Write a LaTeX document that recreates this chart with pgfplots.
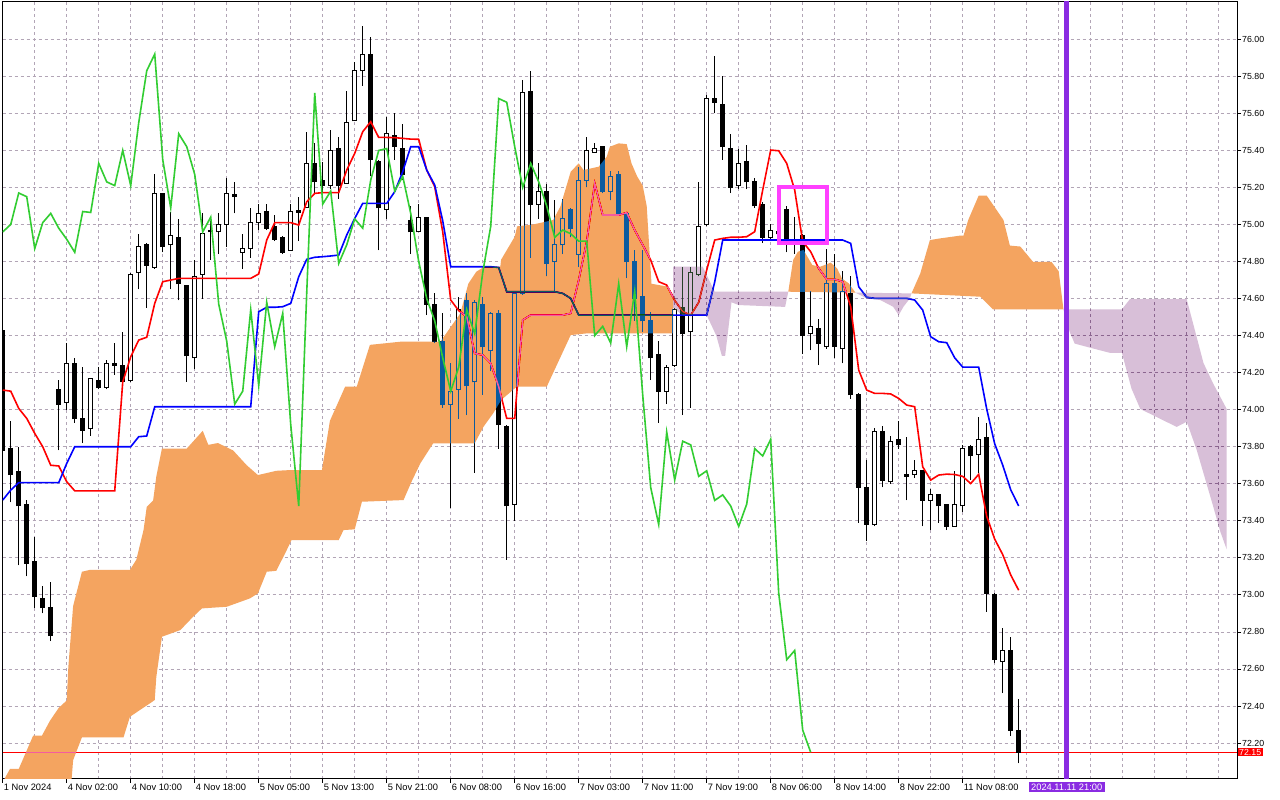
\documentclass[border=0pt]{standalone}
\usepackage{fontspec}
\setmainfont{Liberation Sans}
\usepackage{pgfplots}
\usepackage{pgfplotstable}
\pgfplotsset{compat=1.18}
\definecolor{gridc}{RGB}{178,165,182}
\definecolor{cloudO}{RGB}{11,91,159}
\definecolor{cloudT}{RGB}{39,64,39}
\definecolor{tenkan}{RGB}{255,0,0}
\definecolor{kijun}{RGB}{0,0,255}
\definecolor{chikou}{RGB}{50,205,50}
\definecolor{vline}{RGB}{138,43,226}
\definecolor{boxc}{RGB}{255,64,255}

\pgfplotstableread{
i o h l c
0 74.43 74.45 73.75 73.78
1 73.79 73.94 73.50 73.65
2 73.665 73.80 73.16 73.48
3 73.49 73.51 73.10 73.17
4 73.18 73.31 72.93 72.99
5 72.98 73.05 72.90 72.93
6 72.93 73.07 72.75 72.78
7 74.11 74.16 73.78 74.03
8 74.04 74.36 74.00 74.25
9 74.25 74.28 73.93 73.95
10 73.95 74.23 73.82 73.89
11 73.90 74.17 73.86 74.17
12 74.16 74.23 74.11 74.12
13 74.12 74.27 74.11 74.25
14 74.25 74.36 74.19 74.24
15 74.24 74.42 74.13 74.15
16 74.16 74.74 74.15 74.73
17 74.74 74.95 74.65 74.88
18 74.89 74.90 74.55 74.78
19 74.77 75.27 74.76 75.17
20 75.17 75.17 74.85 74.88
21 74.89 75.07 74.65 74.94
22 74.93 75.03 74.59 74.68
23 74.67 74.67 74.15 74.29
24 74.28 74.81 74.22 74.72
25 74.73 75.06 74.60 74.95
26 74.97 75.02 74.81 74.96
27 74.96 75.06 74.84 75.00
28 75.00 75.25 74.88 75.17
29 75.16 75.23 75.06 75.15
30 74.85 74.95 74.76 74.87
31 74.87 75.09 74.82 75.01
32 75.01 75.11 74.97 75.06
33 75.07 75.11 74.97 74.98
34 74.99 75.05 74.91 74.92
35 74.93 74.94 74.84 74.85
36 74.86 75.11 74.86 75.07
37 75.075 75.15 74.91 75.065
38 75.09 75.50 75.09 75.33
39 75.33 75.44 75.17 75.23
40 75.24 75.34 75.17 75.21
41 75.21 75.51 75.19 75.40
42 75.41 75.47 75.14 75.21
43 75.22 75.72 75.22 75.55
44 75.56 75.88 75.56 75.83
45 75.83 76.07 75.75 75.92
46 75.92 76.01 75.26 75.35
47 75.34 75.35 74.86 75.09
48 75.08 75.58 75.03 75.49
49 75.48 75.60 75.35 75.42
50 75.41 75.54 75.24 75.27
51 75.02 75.10 74.84 74.96
52 74.96 75.11 74.96 75.04
53 75.04 75.04 74.51 74.57
54 74.57 74.63 74.36 74.37
55 74.37 74.52 74.01 74.03
56 74.03 74.25 73.47 74.10
57 74.11 74.61 73.95 74.54
58 74.59 74.63 73.97 74.13
59 74.15 74.59 73.66 74.58
60 74.57 74.61 74.08 74.34
61 74.32 74.53 74.21 74.52
62 74.52 74.54 73.79 73.92
63 73.91 73.92 73.19 73.48
64 73.49 74.63 73.40 74.63
65 74.63 75.78 74.62 75.71
66 75.72 75.83 74.82 75.11
67 75.11 75.33 75.03 75.18
68 75.18 75.22 74.72 74.79
69 74.80 75.13 74.64 74.89
70 74.89 75.14 74.84 75.03
71 75.08 75.09 74.93 74.98
72 74.84 75.31 74.77 75.24
73 75.24 75.47 75.20 75.40
74 75.39 75.44 75.39 75.41
75 75.42 75.42 75.17 75.18
76 75.18 75.29 75.13 75.26
77 75.27 75.29 75.05 75.06
78 75.06 75.06 74.71 74.80
79 74.80 74.86 74.48 74.60
80 74.61 74.86 74.42 74.48
81 74.48 74.53 74.16 74.28
82 74.30 74.37 73.93 74.10
83 74.10 74.24 74.03 74.23
84 74.24 74.55 74.23 74.54
85 74.55 74.77 73.97 74.41
86 74.42 74.77 74.01 74.74
87 74.73 75.23 74.72 74.99
88 75.00 75.70 74.99 75.68
89 75.68 75.91 75.60 75.66
90 75.65 75.80 75.35 75.42
91 75.41 75.49 75.17 75.20
92 75.21 75.41 75.19 75.33
93 75.34 75.43 75.19 75.23
94 75.23 75.25 75.09 75.10
95 75.11 75.12 74.90 74.93
96 74.93 75.00 74.92 74.97
97 74.96 75.00 74.93 74.95
98 75.08 75.10 74.85 74.91
99 74.92 75.04 74.84 74.91
100 74.94 74.95 74.30 74.40
101 74.41 74.64 74.32 74.45
102 74.44 74.49 74.24 74.36
103 74.34 74.87 74.33 74.68
104 74.68 74.84 74.28 74.34
105 74.33 74.75 74.25 74.64
106 74.63 74.72 74.06 74.08
107 74.08 74.09 73.39 73.58
108 73.58 73.73 73.29 73.38
109 73.38 73.90 73.37 73.88
110 73.88 73.91 73.58 73.62
111 73.61 73.86 73.60 73.83
112 73.84 73.94 73.79 73.81
113 73.65 73.85 73.51 73.64
114 73.65 73.73 73.63 73.67
115 73.67 73.67 73.37 73.51
116 73.51 73.57 73.35 73.54
117 73.54 73.54 73.39 73.48
118 73.49 73.49 73.35 73.37
119 73.37 73.67 73.37 73.49
120 73.48 73.81 73.45 73.79
121 73.80 73.81 73.62 73.75
122 73.76 73.96 73.66 73.84
123 73.85 73.93 72.91 73.01
124 73.00 73.01 72.63 72.65
125 72.64 72.82 72.47 72.70
126 72.70 72.77 72.24 72.27
127 72.27 72.44 72.09 72.15
}\candles

\pgfplotstableread{
i t k
0 74.106 73.512
1 74.100 73.566
2 74.007 73.606
3 73.953 73.606
4 73.872 73.606
5 73.800 73.606
6 73.700 73.606
7 73.696 73.606
8 73.611 73.710
9 73.562 73.800
10 73.562 73.800
11 73.562 73.800
12 73.562 73.800
13 73.562 73.800
14 73.562 73.800
15 74.150 73.800
16 74.286 73.800
17 74.376 73.854
18 74.391 73.858
19 74.574 74.016
20 74.691 74.016
21 74.700 74.016
22 74.709 74.016
23 74.709 74.016
24 74.709 74.016
25 74.709 74.016
26 74.709 74.016
27 74.709 74.016
28 74.709 74.016
29 74.709 74.016
30 74.709 74.016
31 74.709 74.016
32 74.733 74.529
33 74.916 74.553
34 75.010 74.553
35 75.010 74.556
36 75.010 74.574
37 74.997 74.718
38 75.123 74.812
39 75.168 74.823
40 75.172 74.826
41 75.172 74.830
42 75.172 74.835
43 75.294 74.943
44 75.384 75.033
45 75.501 75.114
46 75.555 75.114
47 75.470 75.114
48 75.470 75.114
49 75.469 75.177
50 75.465 75.285
51 75.461 75.420
52 75.460 75.420
53 75.294 75.294
54 75.204 75.213
55 74.960 75.020
56 74.592 74.772
57 74.535 74.772
58 74.502 74.772
59 74.304 74.772
60 74.295 74.772
61 74.250 74.772
62 74.124 74.768
63 73.953 74.637
64 73.953 74.637
65 74.484 74.637
66 74.511 74.637
67 74.511 74.637
68 74.511 74.637
69 74.511 74.637
70 74.511 74.628
71 74.520 74.601
72 74.700 74.511
73 74.907 74.511
74 75.222 74.511
75 75.051 74.511
76 75.051 74.511
77 75.051 74.511
78 75.064 74.511
79 74.970 74.511
80 74.890 74.511
81 74.808 74.511
82 74.691 74.511
83 74.673 74.511
84 74.590 74.511
85 74.530 74.511
86 74.510 74.511
87 74.580 74.511
88 74.754 74.511
89 74.916 74.690
90 74.925 74.916
91 74.931 74.916
92 74.931 74.916
93 74.934 74.916
94 74.961 74.916
95 75.186 74.916
96 75.402 74.916
97 75.398 74.916
98 75.330 74.916
99 75.186 74.916
100 74.907 74.916
101 74.853 74.916
102 74.763 74.916
103 74.704 74.916
104 74.704 74.916
105 74.691 74.916
106 74.556 74.898
107 74.214 74.664
108 74.106 74.607
109 74.088 74.601
110 74.088 74.601
111 74.085 74.601
112 74.061 74.601
113 74.025 74.601
114 74.016 74.592
115 73.692 74.538
116 73.620 74.394
117 73.647 74.367
118 73.652 74.362
119 73.650 74.280
120 73.640 74.230
121 73.601 74.230
122 73.651 74.230
123 73.425 74.004
124 73.301 73.816
125 73.218 73.701
126 73.108 73.568
127 73.025 73.480
}\lines

% Kumo polygons (Senkou A and B boundaries)
\pgfplotstableread[row sep=\\]{x y\\
-0.5 71.95\\ 0.9 72.06\\ 2 72.06\\ 3.8 72.24\\ 4.9 72.24\\ 5.9 72.32\\ 7 72.39\\ 8 72.43\\ 8.2 72.61\\ 8.8 72.94\\ 9.9 73.125\\ 10.9 73.135\\ 15.9 73.135\\ 16.7 73.19\\ 17.6 73.35\\ 18 73.475\\ 18.8 73.51\\ 19.2 73.64\\ 19.9 73.79\\ 23 73.79\\ 25 73.886\\ 25.7 73.81\\ 26.9 73.82\\ 28.8 73.78\\ 30.5 73.70\\ 31.9 73.647\\ 34.2 73.67\\ 35.9 73.674\\ 39.9 73.674\\ 40.9 73.94\\ 42.8 74.124\\ 44.25 74.124\\ 45.9 74.35\\ 49.7 74.367\\ 54.7 74.367\\ 57.2 74.52\\ 58.2 74.68\\ 59.2 74.745\\ 60.2 74.772\\ 62.2 74.772\\ 62.3 74.81\\ 64 74.934\\ 64.3 74.99\\ 66.3 75.00\\ 68.8 75.024\\ 69.7 75.096\\ 71 75.285\\ 72 75.33\\ 72.6 75.294\\ 74.5 75.312\\ 75.5 75.366\\ 75.9 75.42\\ 77 75.438\\ 78 75.434\\ 78.6 75.33\\ 79.3 75.26\\ 80 75.21\\ 80.5 75.10\\ 81.1 74.68\\ 83.2 74.664\\ 83.8 74.62\\
83.8 74.412\\ 73 74.412\\ 71 74.403\\ 68 74.124\\ 64.25 74.124\\ 62.3 74.052\\ 61.3 73.98\\ 60.1 73.908\\ 59 73.818\\ 53.8 73.818\\ 52.2 73.71\\ 51.1 73.611\\ 50.1 73.512\\ 44.9 73.503\\ 44 73.354\\ 42.6 73.35\\ 42 73.296\\ 36.1 73.296\\ 35.5 73.242\\ 34.2 73.13\\ 33 73.125\\ 31.9 73.008\\ 30.9 72.981\\ 28 72.936\\ 24.9 72.927\\ 23.8 72.882\\ 22.2 72.81\\ 19.9 72.774\\ 19.2 72.558\\ 19 72.432\\ 15.9 72.342\\ 15.1 72.231\\ 9.9 72.231\\ 8.8 72.108\\ 8.6 72.0\\ 7.5 71.9\\ -0.5 71.5\\
}\kumoOa
\pgfplotstableread[row sep=\\]{x y\\
98.2 74.637\\ 98.8 74.808\\ 99.4 74.853\\ 100.1 74.862\\ 101.2 74.781\\ 102.2 74.772\\ 103.5 74.794\\ 104.3 74.763\\ 104.9 74.709\\ 105.75 74.682\\ 106.6 74.632\\
}\kumoOb
\pgfplotstableread[row sep=\\]{x y\\
113.6 74.628\\ 114.7 74.736\\ 115.9 74.916\\ 117.2 74.925\\ 119.7 74.94\\ 120.1 74.94\\ 120.7 75.025\\ 122 75.156\\ 123 75.156\\ 124 75.093\\ 125.1 75.024\\ 125.9 74.886\\ 127.2 74.881\\ 128.8 74.798\\ 131.1 74.798\\ 132 74.748\\ 132.4 74.61\\ 132.6 74.541\\ 123.8 74.541\\ 122.2 74.61\\
}\kumoOc
\pgfplotstableread[row sep=\\]{x y\\
83.8 74.772\\ 87.5 74.772\\ 89 74.637\\ 98.2 74.637\\ 97.8 74.555\\ 92 74.565\\ 91.1 74.58\\ 90.3 74.29\\ 89.9 74.29\\ 89.2 74.40\\ 88 74.51\\ 85 74.51\\ 83.8 74.55\\
}\kumoTa
\pgfplotstableread[row sep=\\]{x y\\
106.6 74.632\\ 113.6 74.628\\ 113.4 74.601\\ 112.6 74.556\\ 112 74.511\\ 111.3 74.556\\ 109.7 74.592\\ 108 74.601\\
}\kumoTb
\pgfplotstableread[row sep=\\]{x y\\
132.6 74.541\\ 139.9 74.541\\ 140.9 74.597\\ 148 74.597\\ 150.1 74.252\\ 151.3 74.142\\ 153 74.004\\ 153 73.246\\ 152.2 73.342\\ 151.3 73.48\\ 149.25 73.783\\ 148 73.935\\ 146.75 73.907\\ 142.2 74.004\\ 141.1 74.114\\ 139.9 74.307\\ 138.4 74.307\\ 135.9 74.335\\ 134 74.357\\ 133.4 74.417\\
}\kumoTc

\newcommand{\tf}{\fontsize{9.3}{11}\selectfont}
\newcommand{\yf}{\fontsize{8.8}{10}\selectfont}

\begin{document}
\begin{tikzpicture}
\path[use as bounding box, fill=white] (-2.5pt,-21pt) rectangle (1277.5pt,779pt);
\begin{axis}[
  at={(0,0)}, anchor=south west,
  scale only axis, width=1234.5pt, height=777pt,
  xmin=-0.03, xmax=154.29, ymin=72.0059, ymax=76.2014,
  axis line style={black, line width=1pt},
  tick style={black, line width=0.8pt},
  major tick length=4pt, minor tick length=0pt,
  tick align=outside,
  xtick pos=bottom, ytick pos=right, yticklabel pos=right,
  xtick={0,8,...,120},
  xticklabels={1 Nov 2024, 4 Nov 02:00, 4 Nov 10:00, 4 Nov 18:00, 5 Nov 05:00, 5 Nov 13:00, 5 Nov 21:00, 6 Nov 08:00, 6 Nov 16:00, 7 Nov 03:00, 7 Nov 11:00, 7 Nov 19:00, 8 Nov 06:00, 8 Nov 14:00, 8 Nov 22:00, 11 Nov 08:00},
  minor xtick={4,12,...,116,124,128,...,152},
  ytick={72.2,72.4,72.6,72.8,73.0,73.2,73.4,73.6,73.8,74.0,74.2,74.4,74.6,74.8,75.0,75.2,75.4,75.6,75.8,76.0},
  grid=both,
  major grid style={draw=gridc, line width=0.8pt, dash pattern=on 3pt off 3pt},
  minor grid style={draw=gridc, line width=0.8pt, dash pattern=on 3pt off 3pt},
  xticklabel style={font=\tf, anchor=north west, inner sep=1pt},
  yticklabel style={font=\yf, anchor=west, inner sep=1pt,
    /pgf/number format/.cd, fixed, fixed zerofill, precision=2, assume math mode=true},
  clip=true,
]
% white under orange kumo (hide grid)
\addplot[fill=white, draw=none, forget plot] table {\kumoOa};
\addplot[fill=white, draw=none, forget plot] table {\kumoOb};
\addplot[fill=white, draw=none, forget plot] table {\kumoOc};
% current price line
\addplot[red, line width=1pt, forget plot] coordinates {(-0.03,72.15) (154.29,72.15)};
% candles: wicks
\addplot[draw=none, mark=none, forget plot,
  error bars/.cd, y dir=plus, y explicit, error mark=none,
  error bar style={draw=black, solid, line width=1pt}]
  table[x=i, y=l, y error expr=\thisrow{h}-\thisrow{l}] {\candles};
% bodies (outline / bear fill)
\addplot[draw=none, mark=none, forget plot,
  error bars/.cd, y dir=plus, y explicit, error mark=none,
  error bar style={draw=black, solid, line width=5pt}]
  table[x=i, y expr={min(\thisrow{o},\thisrow{c})-0.0027}, y error expr={abs(\thisrow{c}-\thisrow{o})+0.0054}] {\candles};
% bull interiors
\addplot[draw=none, mark=none, forget plot,
  restrict expr to domain={\thisrow{c}-\thisrow{o}}{0.0056:100},
  error bars/.cd, y dir=plus, y explicit, error mark=none,
  error bar style={draw=white, solid, line width=3pt}]
  table[x=i, y expr={\thisrow{o}+0.0027}, y error expr={\thisrow{c}-\thisrow{o}-0.0054}] {\candles};
% Tenkan and Kijun
\addplot[tenkan, line width=1.6pt, mark=none, forget plot] table[x=i, y=t] {\lines};
\addplot[kijun, line width=1.6pt, mark=none, forget plot] table[x=i, y=k] {\lines};
% kumo (difference blend reproduces the XOR look)
\addplot[fill=cloudO, draw=none, blend mode=difference, forget plot] table {\kumoOa};
\addplot[fill=cloudO, draw=none, blend mode=difference, forget plot] table {\kumoOb};
\addplot[fill=cloudO, draw=none, blend mode=difference, forget plot] table {\kumoOc};
\addplot[fill=cloudT, draw=none, blend mode=difference, forget plot] table {\kumoTa};
\addplot[fill=cloudT, draw=none, blend mode=difference, forget plot] table {\kumoTb};
\addplot[fill=cloudT, draw=none, blend mode=difference, forget plot] table {\kumoTc};
% Chikou span
\addplot[chikou, line width=1.6pt, mark=none, forget plot, restrict x to domain=0:200] table[x expr=\thisrow{i}-26, y=c] {\candles};
% vertical line and box
\addplot[vline, line width=5pt, forget plot] coordinates {(133,71.9) (133,76.3)};
\addplot[boxc, line width=4pt, line cap=rect, forget plot] coordinates {(97,74.90) (103,74.90) (103,75.20) (97,75.20) (97,74.90)};
\coordinate (pl) at (axis cs:154.29,72.15);
\coordinate (dl) at (axis cs:133,72.0059);
\end{axis}
\node[fill=red, text=white, anchor=west, inner xsep=1.5pt, inner ysep=1pt, font=\yf] at ([xshift=0.5pt]pl) {72.15};
\node[fill=vline, text=white, anchor=north, inner xsep=2.5pt, inner ysep=1.5pt, font=\tf] at ([yshift=-3pt]dl) {2024.11.11 21:00};
\end{tikzpicture}
\end{document}
